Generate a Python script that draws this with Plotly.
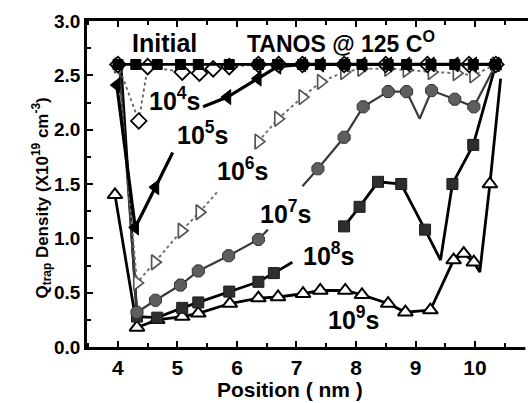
import plotly.graph_objects as go

# ---- data (Position in nm, Q_trap density in 1e19 cm^-3); None = gap in the drawn line
x_init = [4.0, 4.3, 4.66, 5.05, 5.35, 5.87, 6.36, 6.68, 7.1, 7.4, 7.81, 8.1, 8.54, 8.85, 9.26, 9.66, 9.97, 10.35]
y_init = [2.6] * 18

x_e4 = [4.0, 4.35, 4.5, 5.08, 5.37, 5.6, 5.87, 6.36, 6.7, 7.1, 7.8, 8.5, 9.2, 9.9, 10.35]
y_e4 = [2.6, 2.08, 2.58, 2.53, 2.52, 2.56, 2.58, 2.6, 2.6, 2.6, 2.6, 2.6, 2.6, 2.6, 2.6]

x_e5 = [3.98, 4.29, 4.63, 4.92, None, 5.43, 5.84, 6.35, 6.68, 7.1, 7.4, 7.81, 8.1, 8.54, 8.85, 9.26, 9.66, 9.97, 10.35]
y_e5 = [2.41, 1.10, 1.47, 1.79, None, 2.21, 2.30, 2.47, 2.58, 2.6, 2.6, 2.6, 2.6, 2.6, 2.6, 2.6, 2.6, 2.6, 2.6]

x_e6 = [4.0, 4.32, 4.62, 5.07, 5.37, 5.69, None, 6.3, 6.36, 6.69, 7.1, 7.41, 7.8, 8.09, 8.54, 8.85, 9.27, 9.69, 9.97, 10.35]
y_e6 = [2.59, 0.59, 0.78, 1.07, 1.24, 1.44, None, 1.84, 1.89, 2.10, 2.30, 2.44, 2.53, 2.56, 2.56, 2.55, 2.53, 2.52, 2.50, 2.6]

x_e7 = [4.02, 4.32, 4.63, 5.05, 5.35, 5.86, 6.36, 6.52, None, 7.1, 7.36, 7.8, 8.12, 8.54, 8.85, 9.07, 9.27, 9.66, 9.98, 10.35]
y_e7 = [2.6, 0.32, 0.43, 0.57, 0.70, 0.84, 0.99, 1.08, None, 1.48, 1.64, 1.93, 2.21, 2.35, 2.35, 2.10, 2.36, 2.28, 2.21, 2.6]

x_e8 = [4.05, 4.32, 4.66, 5.08, 5.35, 5.87, 6.36, 6.62, 6.93, None, 7.8, 8.06, 8.37, 8.76, 9.16, 9.42, 9.62, 9.97, 10.35]
y_e8 = [2.6, 0.28, 0.27, 0.36, 0.41, 0.51, 0.60, 0.68, 0.78, None, 1.11, 1.29, 1.52, 1.50, 1.08, 0.80, 1.50, 1.86, 2.6]

x_e9 = [3.95, 4.32, 4.66, 5.08, 5.35, 5.88, 6.36, 6.69, 7.11, 7.40, 7.82, 8.10, 8.54, 8.83, 9.25, 9.64, 9.81, 9.98, 10.08, 10.25, 10.43]
y_e9 = [1.40, 0.18, 0.25, 0.28, 0.31, 0.40, 0.45, 0.46, 0.49, 0.52, 0.52, 0.48, 0.40, 0.32, 0.34, 0.80, 0.86, 0.78, 0.69, 1.50, 2.47]

# vertices drawn without a marker (by x position)
bare_e4 = []
bare_e5 = [4.92, 5.43]
bare_e6 = [5.69, 6.3]
bare_e7 = [4.02, 6.52, 7.1, 9.07]
bare_e8 = [4.05, 6.93, 9.42]
bare_e9 = [10.08, 10.43]

labels = ["10<sup>4</sup>s", "10<sup>5</sup>s", "10<sup>6</sup>s", "10<sup>7</sup>s", "10<sup>8</sup>s", "10<sup>9</sup>s"]
label_x = [4.95, 5.42, 6.09, 6.82, 7.53, 7.95]
label_y = [2.28, 1.97, 1.64, 1.24, 0.86, 0.27]

x_ticks = [4, 5, 6, 7, 8, 9, 10]
y_ticks = [0.0, 0.5, 1.0, 1.5, 2.0, 2.5, 3.0]
x_range = [3.48, 10.89]

fig = go.Figure()


def add_series(xs, ys, bare, line_color, line_width, dash, symbol, msize, mcolor, mline_color, mline_width):
    fig.add_trace(go.Scatter(x=xs, y=ys, mode="lines", connectgaps=False,
                             line=dict(color=line_color, width=line_width, dash=dash),
                             hoverinfo="skip", showlegend=False))
    mx = [a for a, b in zip(xs, ys) if a is not None and a not in bare]
    my = [b for a, b in zip(xs, ys) if a is not None and a not in bare]
    fig.add_trace(go.Scatter(x=mx, y=my, mode="markers",
                             marker=dict(symbol=symbol, size=msize, color=mcolor,
                                         line=dict(color=mline_color, width=mline_width)),
                             hoverinfo="skip", showlegend=False))


add_series(x_e9, y_e9, bare_e9, "black", 2.8, "solid", "triangle-up", 13, "white", "black", 2)
add_series(x_e8, y_e8, bare_e8, "black", 2.8, "solid", "square", 11, "#2e2e2e", "#1a1a1a", 1)
add_series(x_e7, y_e7, bare_e7, "#3a3a3a", 2.2, "solid", "octagon", 13, "#5e5e5e", "#333333", 1)
add_series(x_e6, y_e6, bare_e6, "#707070", 2, "dot", "triangle-right", 13, "white", "#555555", 1.7)
add_series(x_e5, y_e5, bare_e5, "black", 3.2, "solid", "triangle-left", 13, "black", "black", 1)
add_series(x_e4, y_e4, bare_e4, "#606060", 1.8, "dot", "diamond", 12, "white", "black", 1.8)
add_series(x_init, y_init, [], "black", 2.8, "solid", "square", 10, "black", "black", 1)

font_family = "Liberation Sans, Arial, sans-serif"

for t, lx, ly in zip(labels, label_x, label_y):
    fig.add_annotation(x=lx, y=ly, text=t, showarrow=False,
                       font=dict(family=font_family, size=25, color="black", weight="bold"))

fig.add_annotation(x=4.78, y=2.80, text="Initial", showarrow=False,
                   font=dict(family=font_family, size=25, color="black", weight="bold"))
fig.add_annotation(x=7.75, y=2.81, text="TANOS @ 125 C<sup>O</sup>", showarrow=False,
                   font=dict(family=font_family, size=23, color="black", weight="bold"))

# axis titles
fig.add_annotation(x=0.46, y=-0.13, xref="paper", yref="paper", yanchor="middle",
                   text="Position ( nm )", showarrow=False,
                   font=dict(family=font_family, size=21, color="black", weight="bold"))
fig.add_annotation(x=-0.136, y=0.457, xref="paper", yref="paper", textangle=-90,
                   text="Q<sub>trap</sub> Density (X10<sup>19</sup> cm<sup>-3</sup>)", showarrow=False,
                   font=dict(family=font_family, size=17, color="black", weight="bold"))

# white strip hiding anything on the cut-off right edge of the frame
fig.add_shape(type="rect", xref="paper", yref="paper", x0=0.994, x1=1.01, y0=-0.02, y1=0.99,
              fillcolor="white", line=dict(width=0), layer="above")

minor_x = dict(dtick=0.5, tick0=0, ticks="inside", ticklen=4, tickwidth=2, tickcolor="black")

fig.update_layout(
    width=528, height=403,
    margin=dict(l=87, r=0, t=21, b=56),
    paper_bgcolor="white", plot_bgcolor="white",
    font=dict(family=font_family, size=16, color="black", weight="bold"),
    xaxis=dict(range=x_range, tickvals=x_ticks, ticktext=[str(v) for v in x_ticks],
               showgrid=False, zeroline=False, showline=True, linecolor="black", linewidth=2.5,
               mirror="ticks", ticks="inside", ticklen=6, tickwidth=2, tickcolor="black",
               minor=minor_x, tickfont=dict(size=21, weight="bold")),
    yaxis=dict(range=[0, 3.0], tickvals=y_ticks, ticktext=["%.1f" % v for v in y_ticks],
               showgrid=False, zeroline=False, showline=True, linecolor="black", linewidth=2.5,
               mirror=False, ticks="inside", ticklen=6, tickwidth=2, tickcolor="black",
               minor=dict(dtick=0.25, tick0=0, ticks="inside", ticklen=4, tickwidth=2, tickcolor="black"),
               tickfont=dict(size=19, weight="bold")),
)

fig.write_html("out.html")
